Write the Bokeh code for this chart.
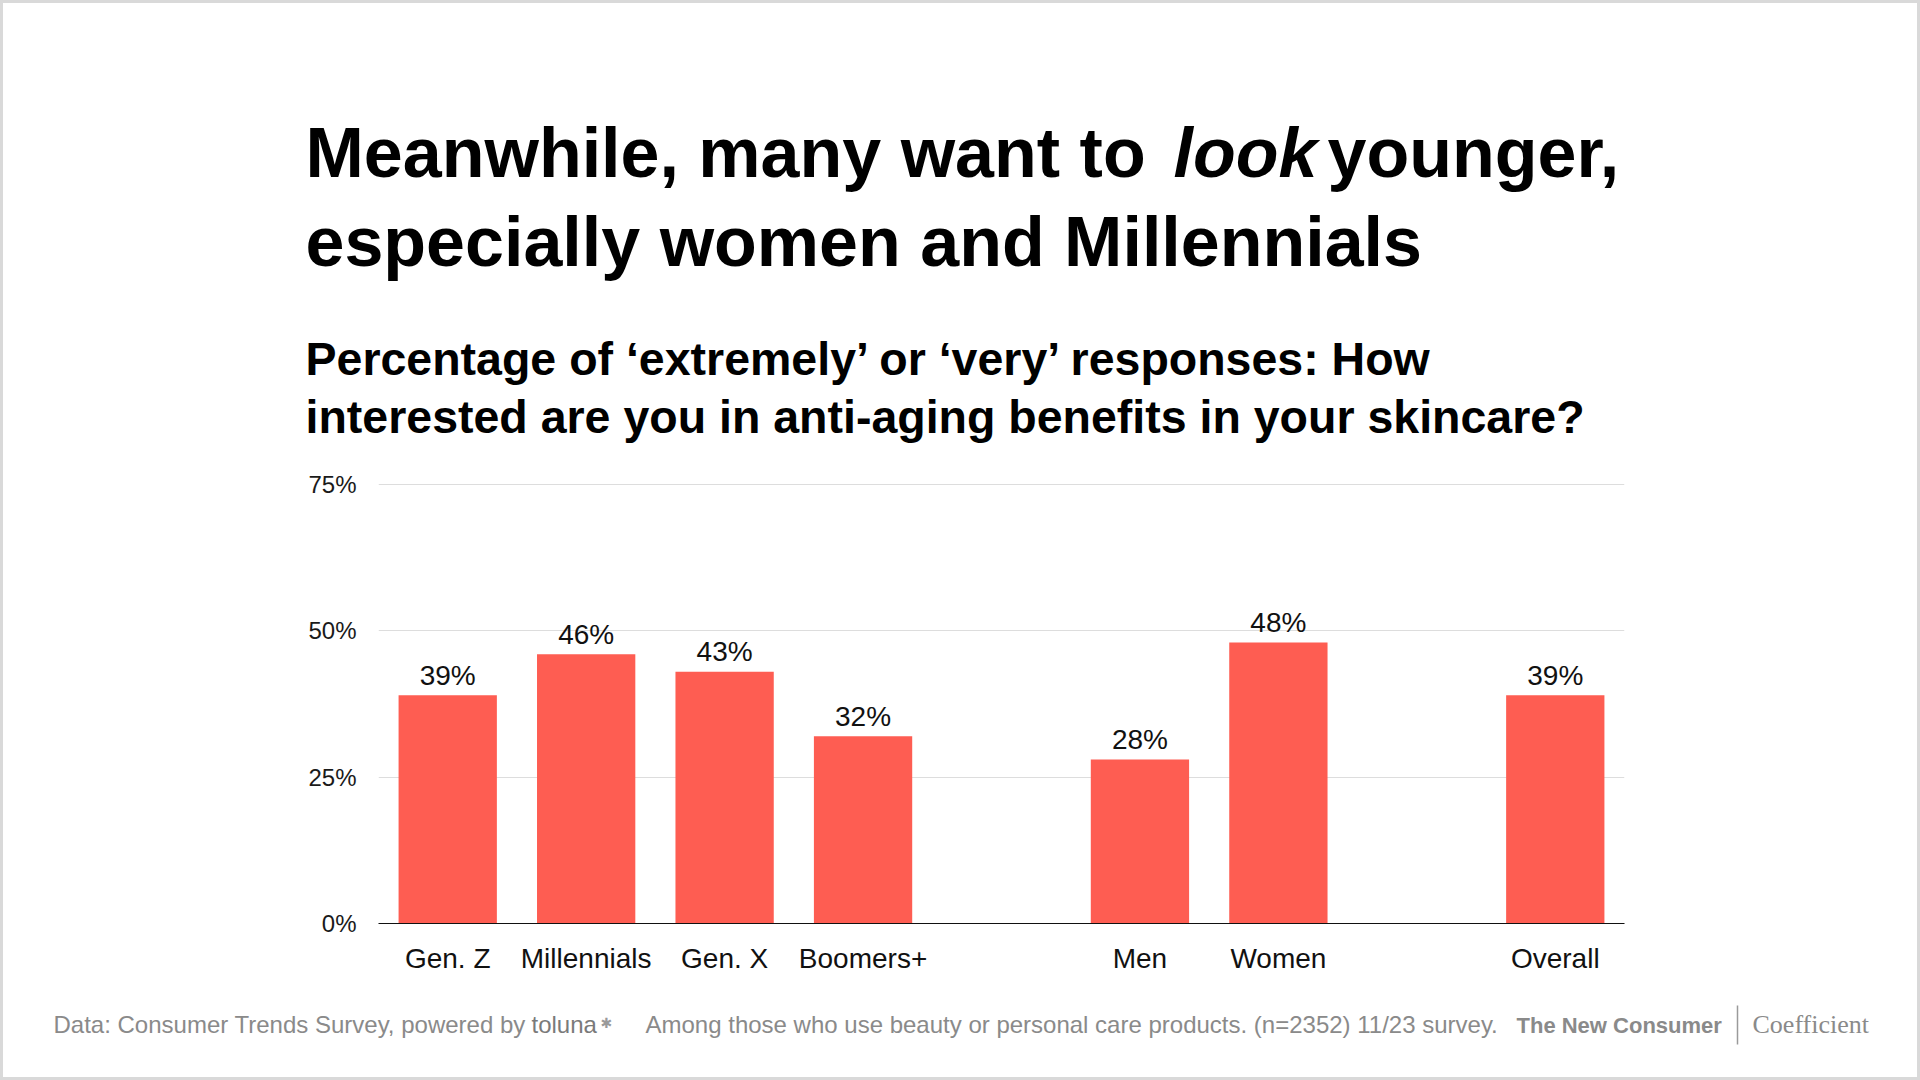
from bokeh.plotting import figure
from bokeh.layouts import column
from bokeh.models import (FactorRange, ColumnDataSource, FixedTicker,
                          PrintfTickFormatter, Range1d)
from bokeh.core.properties import value
from bokeh.embed import file_html
from bokeh.resources import INLINE

# ---------------- data ----------------
categories = ["Gen. Z", "Millennials", "Gen. X", "Boomers+", "Men", "Women", "Overall"]
groups = ["Generation", "Generation", "Generation", "Generation", "Gender", "Gender", "Total"]
values = [39, 46, 43, 32, 28, 48, 39]
value_labels = ["39%", "46%", "43%", "32%", "28%", "48%", "39%"]
y_ticks = [0, 25, 50, 75]

title_parts = ["Meanwhile, many want to", "look", "younger,"]
title_line2 = "especially women and Millennials"
subtitle_lines = ["Percentage of \u2018extremely\u2019 or \u2018very\u2019 responses: How",
                  "interested are you in anti-aging benefits in your skincare?"]
footer_source = "Data: Consumer Trends Survey, powered by"
footer_logo = "toluna"
footer_note = "Among those who use beauty or personal care products. (n=2352) 11/23 survey."
brand1 = "The New Consumer"
brand2 = "Coefficient"

# ---------------- layout ----------------
W = 1920
TOP_H, CHART_H, FOOT_H = 450, 540, 90
FRAME_L, FRAME_W = 378, 1246
FRAME_T, FRAME_B = 481, 923      # page coordinates

FONT = "Liberation Sans"
BASE_K = 0.355   # measured: the rendered baseline sits this many em below the anchor
EDGE = "#d9d9d9"


def shadow(*sides):
    parts = {"top": "inset 0 3px 0 0 " + EDGE, "bottom": "inset 0 -3px 0 0 " + EDGE,
             "left": "inset 3px 0 0 0 " + EDGE, "right": "inset -3px 0 0 0 " + EDGE}
    return {"box-shadow": ", ".join(parts[s] for s in sides), "background": "white"}


def text_fig(height, sides):
    f = figure(width=W, height=height, x_range=Range1d(0, W), y_range=Range1d(height, 0),
               output_backend="svg", toolbar_location=None,
               min_border=0, min_border_left=0, min_border_right=0,
               min_border_top=0, min_border_bottom=0, styles=shadow(*sides))
    try:
        f.frame_align = False
    except Exception:
        pass
    f.axis.visible = False
    f.grid.visible = False
    f.outline_line_color = None
    f.background_fill_alpha = 0
    f.border_fill_alpha = 0
    return f


def put(f, x, y, text, size_px, color="#000000", style="normal", font=FONT):
    f.text(x=[x], y=[y - BASE_K * size_px], text=[text], text_font=value(font),
           text_font_size=f"{size_px}px",
           text_font_style=style, text_color=color,
           text_baseline="alphabetic", text_align="left")


# ---- title / subtitle (page y 0..450) ----
top = text_fig(TOP_H, ("top", "left", "right"))
put(top, 305, 177, title_parts[0], 70, style="bold")
put(top, 1173, 177, title_parts[1], 70, style="bold italic")
put(top, 1327, 177, title_parts[2], 70, style="bold")
put(top, 305, 266, title_line2, 70, style="bold")
put(top, 305, 375, subtitle_lines[0], 46.5, style="bold")
put(top, 305, 433, subtitle_lines[1], 46.5, style="bold")

# ---- chart (page y 450..990) ----
factors = list(zip(groups, categories))
src = ColumnDataSource(dict(x=factors, top=values, lab=value_labels))
xr = FactorRange(factors=factors, factor_padding=0.0, group_padding=1.0,
                 subgroup_padding=0.0, range_padding=0.0)

p = figure(width=W, height=CHART_H, x_range=xr, y_range=(0, 75.5),
           output_backend="svg", toolbar_location=None,
           min_border_left=FRAME_L, min_border_right=W - FRAME_L - FRAME_W,
           min_border_top=FRAME_T - TOP_H,
           min_border_bottom=TOP_H + CHART_H - FRAME_B,
           styles=shadow("left", "right"))
try:
    p.frame_align = False
except Exception:
    pass
p.outline_line_color = None
p.background_fill_color = "white"
p.border_fill_alpha = 0

p.vbar(x="x", top="top", width=0.71, source=src,
       fill_color="#FE5D52", line_color=None)

VAL_PX = 28
p.text(x="x", y="top", text="lab", source=src, y_offset=-(10 + BASE_K * VAL_PX),
       text_align="center", text_baseline="alphabetic",
       text_font=value(FONT), text_font_size=f"{VAL_PX}px", text_color="#111111")

p.xgrid.grid_line_color = None
p.ygrid.grid_line_color = "#dddddd"
p.ygrid.grid_line_width = 1
p.yaxis.ticker = FixedTicker(ticks=y_ticks)
p.yaxis.formatter = PrintfTickFormatter(format="%d%%")
p.yaxis.axis_line_color = None
p.yaxis.major_tick_line_color = None
p.yaxis.minor_tick_line_color = None
p.yaxis.major_tick_out = 0
p.yaxis.major_tick_in = 0
p.yaxis.major_label_standoff = 22
p.yaxis.major_label_text_font = FONT
p.yaxis.major_label_text_font_size = "24px"
p.yaxis.major_label_text_color = "#1a1a1a"

xa = p.xaxis[0]
xa.axis_line_color = "#111111"
xa.axis_line_width = 1.2
xa.major_tick_line_color = None
xa.major_tick_out = 0
xa.major_tick_in = 0
xa.major_label_standoff = 19
xa.major_label_text_font = FONT
xa.major_label_text_font_size = "28px"
xa.major_label_text_color = "#111111"
xa.group_text_color = None
xa.group_text_font_size = "1px"
xa.separator_line_color = None

# ---- footer (page y 990..1080) ----
foot = text_fig(FOOT_H, ("left", "right", "bottom"))
FY = 1033 - 990
gray = "#8a8a8a"
put(foot, 53, FY, footer_source, 24, color=gray)
put(foot, 531, FY, footer_logo, 24, color="#7a7a7a")
put(foot, 600, FY - 6, "\u2731", 14, color="#9a9a9a", font="DejaVu Sans")
put(foot, 645, FY, footer_note, 24, color=gray)
put(foot, 1516, FY, brand1, 22, color=gray, style="bold")
put(foot, 1752, FY, brand2, 26, color=gray, font="Liberation Serif")
foot.segment(x0=[1737], y0=[1005 - 990], x1=[1737], y1=[1044 - 990],
             line_color="#9a9a9a", line_width=1.5)

layout = column(top, p, foot, spacing=0)

open("out.html", "w").write(file_html(layout, INLINE))
